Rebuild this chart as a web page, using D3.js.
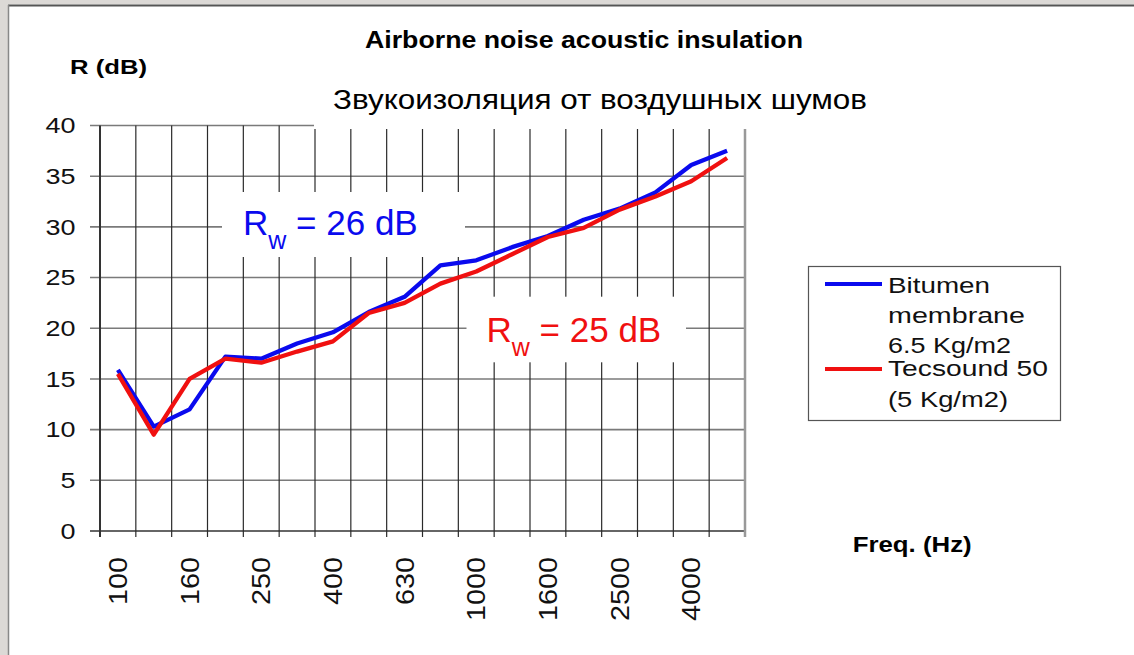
<!DOCTYPE html>
<html><head><meta charset="utf-8">
<script src="https://cdn.jsdelivr.net/npm/d3@7"></script>
<style>
html,body{margin:0;padding:0;background:#fff;}
svg{display:block;font-family:"Liberation Sans",Arial,sans-serif;}
</style></head>
<body>
<svg id="c" width="1134" height="655"></svg>
<script>
const freqs = ["100","125","160","200","250","315","400","500","630","800","1000","1250","1600","2000","2500","3150","4000","5000"];
const shownFreqs = ["100","160","250","400","630","1000","1600","2500","4000"];
const bitumen = [15.9,10.3,12.0,17.2,17.0,18.5,19.6,21.6,23.1,26.2,26.7,28.0,29.1,30.7,31.8,33.4,36.1,37.5];
const tecsound = [15.5,9.5,15.0,17.0,16.6,17.7,18.7,21.5,22.5,24.4,25.6,27.3,29.0,29.9,31.7,33.0,34.5,36.8];
const yTicks = [0,5,10,15,20,25,30,35,40];
const seriesNames = [["Bitumen","membrane","6.5 Kg/m2"],["Tecsound 50","(5 Kg/m2)"]];
const colors = ["#0a0aee","#f01010"];

const svg = d3.select("#c");
// frame
svg.append("rect").attr("x",0).attr("y",0).attr("width",1134).attr("height",655).attr("fill","#fff");
svg.append("rect").attr("x",0).attr("y",0).attr("width",1134).attr("height",4.5).attr("fill","#dcd9d6");
svg.append("rect").attr("x",0).attr("y",0).attr("width",8).attr("height",655).attr("fill","#dcd9d6");
svg.append("line").attr("x1",8).attr("x2",1134).attr("y1",5.5).attr("y2",5.5).attr("stroke","#555").attr("stroke-width",2);
svg.append("line").attr("x1",8.5).attr("x2",8.5).attr("y1",5).attr("y2",655).attr("stroke","#888").attr("stroke-width",1.5);

const x = d3.scaleBand().domain(freqs).range([100,745]).padding(0);
const y = d3.scaleLinear().domain([0,40]).range([531,125.5]);
const xc = f => x(f) + x.bandwidth()/2;

// horizontal gridlines (extend left as ticks)
svg.append("g").selectAll("line").data(yTicks).join("line")
  .attr("x1",90).attr("x2",745).attr("y1",d=>y(d)).attr("y2",d=>y(d))
  .attr("stroke",d=>d===0?"#333":"#7a7a7a").attr("stroke-width",1.6);
// vertical gridlines (extend below as ticks)
const bounds = freqs.map(f=>x(f)).concat([745]);
svg.append("g").selectAll("line").data(bounds.slice(1,-1)).join("line")
  .attr("x1",d=>d).attr("x2",d=>d).attr("y1",y(40)).attr("y2",537)
  .attr("stroke","#2a2a2a").attr("stroke-width",1.2);
svg.append("line").attr("x1",100).attr("x2",100).attr("y1",y(40)).attr("y2",537).attr("stroke","#333").attr("stroke-width",2);
svg.append("line").attr("x1",745).attr("x2",745).attr("y1",y(40)).attr("y2",537).attr("stroke","#999").attr("stroke-width",2.5);

// white text boxes
svg.append("rect").attr("x",314).attr("y",78).attr("width",600).attr("height",51).attr("fill","#fff");
svg.append("rect").attr("x",222).attr("y",192).attr("width",243).attr("height",65).attr("fill","#fff");
svg.append("rect").attr("x",466.5).attr("y",296.7).attr("width",219.5).attr("height",65.6).attr("fill","#fff");

// y labels
svg.append("g").selectAll("text").data(yTicks).join("text")
  .attr("x",75.5).attr("y",d=>y(d)+7.8).attr("text-anchor","end")
  .attr("font-size",22).attr("fill","#111")
  .attr("textLength",d=>String(d).length*15).attr("lengthAdjust","spacingAndGlyphs")
  .text(d=>d);
// x labels
svg.append("g").selectAll("text").data(shownFreqs).join("text")
  .attr("transform",d=>`translate(${xc(d)+9},557) rotate(-90)`)
  .attr("text-anchor","end").attr("font-size",25).attr("fill","#111")
  .attr("textLength",d=>d.length*16).attr("lengthAdjust","spacingAndGlyphs")
  .text(d=>d);

// lines
const line = d3.line().x((d,i)=>xc(freqs[i])).y(d=>y(d));
[bitumen,tecsound].forEach((s,k)=>{
  svg.append("path").datum(s).attr("d",line).attr("fill","none")
    .attr("stroke",colors[k]).attr("stroke-width",4.3).attr("stroke-linejoin","round");
});

// titles
svg.append("text").attr("x",365).attr("y",48).attr("font-size",24).attr("font-weight","bold")
  .attr("textLength",438).attr("lengthAdjust","spacingAndGlyphs").text("Airborne noise acoustic insulation");
svg.append("text").attr("x",70).attr("y",74).attr("font-size",21).attr("font-weight","bold")
  .attr("textLength",77).attr("lengthAdjust","spacingAndGlyphs").text("R (dB)");
svg.append("text").attr("x",333).attr("y",109).attr("font-size",28.5)
  .attr("textLength",534).attr("lengthAdjust","spacingAndGlyphs").text("Звукоизоляция от воздушных шумов");
svg.append("text").attr("x",852.7).attr("y",552).attr("font-size",22).attr("font-weight","bold")
  .attr("textLength",119).attr("lengthAdjust","spacingAndGlyphs").text("Freq. (Hz)");

// Rw labels
function rw(xp, yp, val, col){
  const t = svg.append("text").attr("x",xp).attr("y",yp).attr("fill",col).attr("font-size",35);
  t.append("tspan").text("R");
  t.append("tspan").attr("font-size",25).attr("dy",14).text("w");
  t.append("tspan").attr("dy",-14).text(` = ${val} dB`);
}
rw(243,235,26,colors[0]);
rw(486.5,341.5,25,colors[1]);

// legend
svg.append("rect").attr("x",808.5).attr("y",266.5).attr("width",252).attr("height",154)
  .attr("fill","#fff").attr("stroke","#555").attr("stroke-width",1.2);
const legY = [284,369];
const legText = [[[292.7,102],[323.3,137],[353.3,123]],[[376,160],[406.7,120]]];
seriesNames.forEach((names,k)=>{
  svg.append("line").attr("x1",825).attr("x2",882).attr("y1",legY[k]).attr("y2",legY[k])
    .attr("stroke",colors[k]).attr("stroke-width",4);
  names.forEach((n,j)=>{
    svg.append("text").attr("x",888).attr("y",legText[k][j][0]).attr("font-size",22.5).attr("fill","#111")
      .attr("textLength",legText[k][j][1]).attr("lengthAdjust","spacingAndGlyphs").text(n);
  });
});
</script>
</body></html>
